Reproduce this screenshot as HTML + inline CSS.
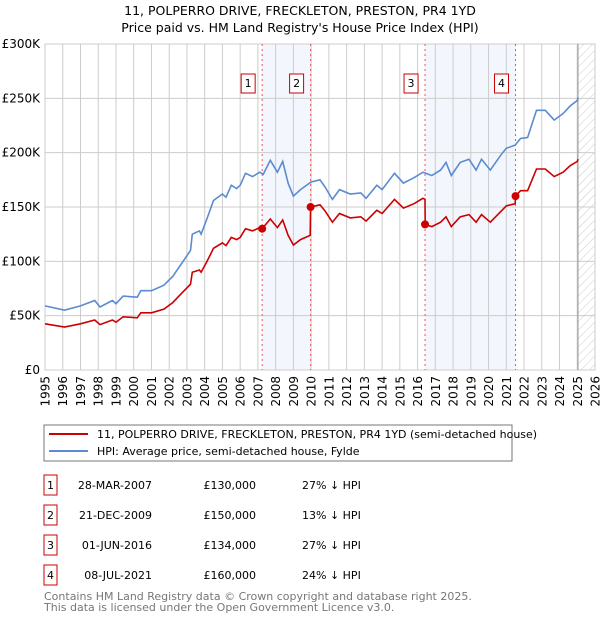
<!DOCTYPE html>
<html><head><meta charset="utf-8"><style>
body{margin:0;background:#fff;width:600px;height:620px;overflow:hidden}
svg{display:block;font-family:"DejaVu Sans","Liberation Sans",sans-serif}
</style></head><body>
<svg id="c" width="600" height="620">
<defs><pattern id="hatch" width="6" height="6" patternUnits="userSpaceOnUse" patternTransform="rotate(45)"><line x1="0" y1="0" x2="0" y2="6" stroke="#ccc" stroke-width="1"/></pattern></defs>
<text x="300" y="15" text-anchor="middle" font-size="12.5">11, POLPERRO DRIVE, FRECKLETON, PRESTON, PR4 1YD</text>
<text x="300" y="32" text-anchor="middle" font-size="12.5">Price paid vs. HM Land Registry's House Price Index (HPI)</text>
<g id="plot"></g>
<rect x="44" y="425" width="468" height="36" fill="#fff" stroke="#777"/>
<line x1="49" y1="434" x2="88" y2="434" stroke="#cc0000" stroke-width="2"/>
<text x="97" y="438" font-size="11">11, POLPERRO DRIVE, FRECKLETON, PRESTON, PR4 1YD (semi-detached house)</text>
<line x1="49" y1="451" x2="88" y2="451" stroke="#5b8bd0" stroke-width="2"/>
<text x="97" y="455" font-size="11">HPI: Average price, semi-detached house, Fylde</text>
<g id="table" font-size="11"></g>
<text x="44" y="600" font-size="11" fill="#777">Contains HM Land Registry data © Crown copyright and database right 2025.</text>
<text x="44" y="611" font-size="11" fill="#777">This data is licensed under the Open Government Licence v3.0.</text>
</svg>
<script>
const hpiDates=[1995,1996.1,1997,1997.8,1998.1,1998.8,1999.0,1999.4,2000.2,2000.4,2001,2001.7,2002.2,2002.7,2003.2,2003.3,2003.7,2003.8,2004.1,2004.5,2005.0,2005.2,2005.5,2005.8,2006,2006.3,2006.7,2007.1,2007.3,2007.7,2008.1,2008.4,2008.7,2009.0,2009.4,2010.0,2010.5,2010.8,2011.2,2011.6,2012.2,2012.8,2013.1,2013.7,2014.0,2014.7,2015.2,2015.8,2016.3,2016.8,2017.3,2017.6,2017.9,2018.4,2018.9,2019.3,2019.6,2020.1,2020.7,2021.0,2021.5,2021.8,2022.2,2022.7,2023.2,2023.7,2024.2,2024.6,2025.0,2025.04];
const hpiValues=[59,55,59,64,58,64,61,68,67,73,73,78,86,98,110,125,128,125,138,156,162,159,170,167,170,181,178,182,180,193,182,192,172,160,166,173,175,168,157,166,162,163,158,170,166,181,172,177,182,179,184,191,179,191,194,184,194,184,198,204,207,213,214,239,239,230,236,243,248,251];
const priceDates=[1995,1996.1,1997,1997.8,1998.1,1998.8,1999.0,1999.4,2000.2,2000.4,2001,2001.7,2002.2,2002.7,2003.2,2003.3,2003.7,2003.8,2004.1,2004.5,2005.0,2005.2,2005.5,2005.8,2006,2006.3,2006.7,2007.1,2007.24,2007.7,2008.1,2008.4,2008.7,2009.0,2009.4,2009.95,2009.97,2010.5,2010.8,2011.2,2011.6,2012.2,2012.8,2013.1,2013.7,2014.0,2014.7,2015.2,2015.8,2016.3,2016.42,2016.43,2016.8,2017.3,2017.6,2017.9,2018.4,2018.9,2019.3,2019.6,2020.1,2020.7,2021.0,2021.5,2021.52,2021.8,2022.2,2022.7,2023.2,2023.7,2024.2,2024.6,2025.0,2025.04];
const priceValues=[42.5,39.6,42.5,46,41.8,46,44,49,48,52.6,52.6,56,62,70.6,79,90,92,90,99,112,117,114.5,122,120,122,130,128,131,130,139,131,138,124,115,120,124,150,152,146,136,144,140,141,137,147,144,157,149,153,158,157,134,132,136,141,132,141,143,136,143,136,146,151,153,160,165,165,185,185,178,182,188,192,194];
const saleDates=[2007.24,2009.97,2016.42,2021.52];
const salePrices=[130,150,134,160];
const saleLabels=["1","2","3","4"];
const saleDateText=["28-MAR-2007","21-DEC-2009","01-JUN-2016","08-JUL-2021"];
const salePriceText=["£130,000","£150,000","£134,000","£160,000"];
const saleHpiText=["27% ↓ HPI","13% ↓ HPI","27% ↓ HPI","24% ↓ HPI"];
const yTicks=[0,50,100,150,200,250,300];
const yTickLabels=["£0","£50K","£100K","£150K","£200K","£250K","£300K"];
const xYears=[1995,1996,1997,1998,1999,2000,2001,2002,2003,2004,2005,2006,2007,2008,2009,2010,2011,2012,2013,2014,2015,2016,2017,2018,2019,2020,2021,2022,2023,2024,2025,2026];
const dataEnd=2025.04;

const NS="http://www.w3.org/2000/svg";
const X0=45,X1=595,Y0=370,Y1=44;
const xs=y=>X0+(y-1995)/(2026-1995)*(X1-X0);
const ys=v=>Y0-v/300*(Y0-Y1);
const plot=document.getElementById('plot');
function mk(tag,attrs,parent){const e=document.createElementNS(NS,tag);for(const k in attrs)e.setAttribute(k,attrs[k]);(parent||plot).appendChild(e);return e;}

let e;
for(let i=0;i<saleDates.length;i+=2){
 e=mk('rect',{x:xs(saleDates[i]),y:Y1,width:xs(saleDates[i+1])-xs(saleDates[i]),height:Y0-Y1,fill:'#eef3fc',opacity:0.7});
 
 
}
e=mk('rect',{x:xs(dataEnd),y:Y1,width:X1-xs(dataEnd),height:Y0-Y1,fill:'url(#hatch)'});


yTicks.forEach((t,i)=>{
 e=mk('line',{x1:X0,x2:X1,y1:ys(t),y2:ys(t),stroke:'#ccc'});
 
 
 e=mk('text',{x:40,y:ys(t)+4,'text-anchor':'end','font-size':12});
 e.textContent=yTickLabels[i];
 
 
});
xYears.forEach(y=>{
 e=mk('line',{x1:xs(y),x2:xs(y),y1:Y1,y2:Y0,stroke:'#ccc'});
 
 
 const tx=xs(y)+4.5,ty=376;
 e=mk('text',{x:tx,y:ty,'text-anchor':'end','font-size':12,transform:`rotate(-90 ${tx} ${ty})`});
 e.textContent=y;
 
 
});
e=mk('rect',{x:X0,y:Y1,width:X1-X0,height:Y0-Y1,fill:'none',stroke:'#ccc'});


e=mk('line',{x1:xs(dataEnd),x2:xs(dataEnd),y1:Y1,y2:Y0,stroke:'#999','stroke-width':1});


saleDates.forEach((d,i)=>{
 e=mk('line',{x1:xs(d),x2:xs(d),y1:Y1,y2:Y0,stroke:'#ee5555','stroke-dasharray':'2,3'});
 
 
 e=mk('rect',{x:xs(d)-21,y:74,width:14,height:19,fill:'#fff',stroke:'#cc0000'});
 
 
 e=mk('text',{x:xs(d)-14,y:87,'text-anchor':'middle','font-size':11});
 e.textContent=saleLabels[i];
 
 
});
const path=(ds,vs)=>ds.map((d,i)=>(i?'L':'M')+xs(d).toFixed(1)+','+ys(vs[i]).toFixed(1)).join('');
e=mk('path',{d:path(hpiDates,hpiValues),fill:'none',stroke:'#5b8bd0','stroke-width':1.6});


e=mk('path',{d:path(priceDates,priceValues),fill:'none',stroke:'#cc0000','stroke-width':1.6});


saleDates.forEach((d,i)=>{
 e=mk('circle',{cx:xs(d),cy:ys(salePrices[i]),r:4,fill:'#cc0000'});
 
 
});
const tb=document.getElementById('table');
saleDates.forEach((d,i)=>{
 const cy=485+i*30;
 e=mk('rect',{x:44,y:cy-10,width:13,height:20,fill:'#fff',stroke:'#cc0000'},tb);
 
 
 e=mk('text',{x:50.5,y:cy+4,'text-anchor':'middle'},tb);e.textContent=saleLabels[i];
 
 
 e=mk('text',{x:152,y:cy+4,'text-anchor':'end'},tb);e.textContent=saleDateText[i];
 
 
 e=mk('text',{x:256,y:cy+4,'text-anchor':'end'},tb);e.textContent=salePriceText[i];
 
 
 e=mk('text',{x:302,y:cy+4},tb);e.textContent=saleHpiText[i];
 
 
});
</script>
</body></html>
